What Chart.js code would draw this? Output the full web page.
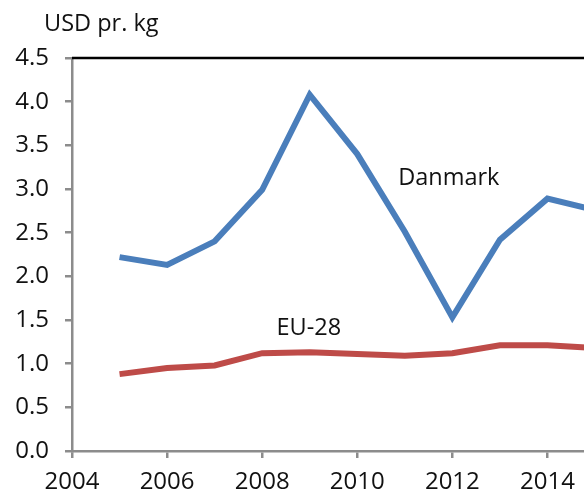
<!DOCTYPE html>
<html>
<head>
<meta charset="utf-8">
<script src="https://cdn.jsdelivr.net/npm/chart.js@4/dist/chart.umd.min.js"></script>
<style>
  html, body { margin: 0; padding: 0; background: #fff; overflow: hidden; }
  #wrap { position: relative; width: 595px; height: 494px; }
</style>
</head>
<body>
<div id="wrap"><canvas id="priceChart"></canvas></div>
<script>
// data
const years   = [2005, 2006, 2007, 2008, 2009, 2010, 2011, 2012, 2013, 2014, 2015];
const danmark = [2.22, 2.13, 2.40, 2.99, 4.08, 3.40, 2.51, 1.53, 2.42, 2.89, 2.76];
const eu28    = [0.88, 0.95, 0.98, 1.12, 1.13, 1.11, 1.09, 1.12, 1.21, 1.21, 1.18];
const xTicks  = [2004, 2006, 2008, 2010, 2012, 2014];
const yTicks  = [0, 0.5, 1, 1.5, 2, 2.5, 3, 3.5, 4, 4.5];
const unitLabel = 'USD pr. kg';

const FONT = '"Open Sans", "Noto Sans", sans-serif';
const AXIS_GREY = '#8c8c8c';

//labels next to the lines + unit text + black top border
const annotate = {
  id: 'annotate',
  afterDraw(chart) {
    const ctx = chart.ctx;
    const xs = chart.scales.x, ys = chart.scales.y;
    const area = chart.chartArea;

    ctx.save();
    ctx.strokeStyle = '#000';
    ctx.lineWidth = 2.5;
    ctx.beginPath();
    ctx.moveTo(area.left, area.top);
    ctx.lineTo(area.right, area.top);
    ctx.stroke();

    ctx.fillStyle = '#111';
    ctx.font = '23.5px ' + FONT;
    ctx.textBaseline = 'middle';
    ctx.textAlign = 'left';
    ctx.fillText('Danmark', xs.getPixelForValue(2010.86), ys.getPixelForValue(3.12));
    ctx.fillText('EU-28', xs.getPixelForValue(2008.3), ys.getPixelForValue(1.41));
    ctx.fillText(unitLabel, 44, 24);
    ctx.restore();
  }
};

function toPoints(vals) {
  return vals.map((v, i) => ({ x: years[i], y: v }));
}

const ctx = document.getElementById('priceChart').getContext('2d');
const myChart = new Chart(ctx, {
  type: 'line',
  data: {
    datasets: [
      { label: 'Danmark', data: toPoints(danmark), borderColor: '#4a7ebb', borderWidth: 6, pointRadius: 0, tension: 0 },
      { label: 'EU-28', data: toPoints(eu28), borderColor: '#be4b48', borderWidth: 6, pointRadius: 0, tension: 0 }
    ]
  },
  options: {
    responsive: true,
    maintainAspectRatio: false,
    animation: false,
    layout: { padding: { top: 58, left: 0, right: 0, bottom: 0 } },
    scales: {
      x: {
        type: 'linear',
        min: 2004,
        max: 2015,
        afterFit: s => { s.height = 43; },
        afterBuildTicks: s => { s.ticks = xTicks.map(v => ({ value: v })); },
        border: { color: AXIS_GREY, width: 2.5 },
        grid: { drawOnChartArea: false, color: AXIS_GREY, lineWidth: 2.5, tickLength: 7 },
        ticks: {
          color: '#111',
          font: { family: FONT, size: 24 },
          padding: 10,
          maxRotation: 0,
          callback: v => String(v)
        }
      },
      y: {
        min: 0,
        max: 4.5,
        afterFit: s => { s.width = 72; },
        afterBuildTicks: s => { s.ticks = yTicks.map(v => ({ value: v })); },
        border: { color: AXIS_GREY, width: 2.5 },
        grid: { drawOnChartArea: false, color: AXIS_GREY, lineWidth: 2.5, tickLength: 7 },
        ticks: {
          color: '#111',
          font: { family: FONT, size: 24 },
          padding: 16,
          callback: v => v.toFixed(1)
        }
      }
    },
    plugins: {
      legend: { display: false },
      tooltip: { enabled: false }
    }
  },
  plugins: [annotate]
});
</script>
</body>
</html>
